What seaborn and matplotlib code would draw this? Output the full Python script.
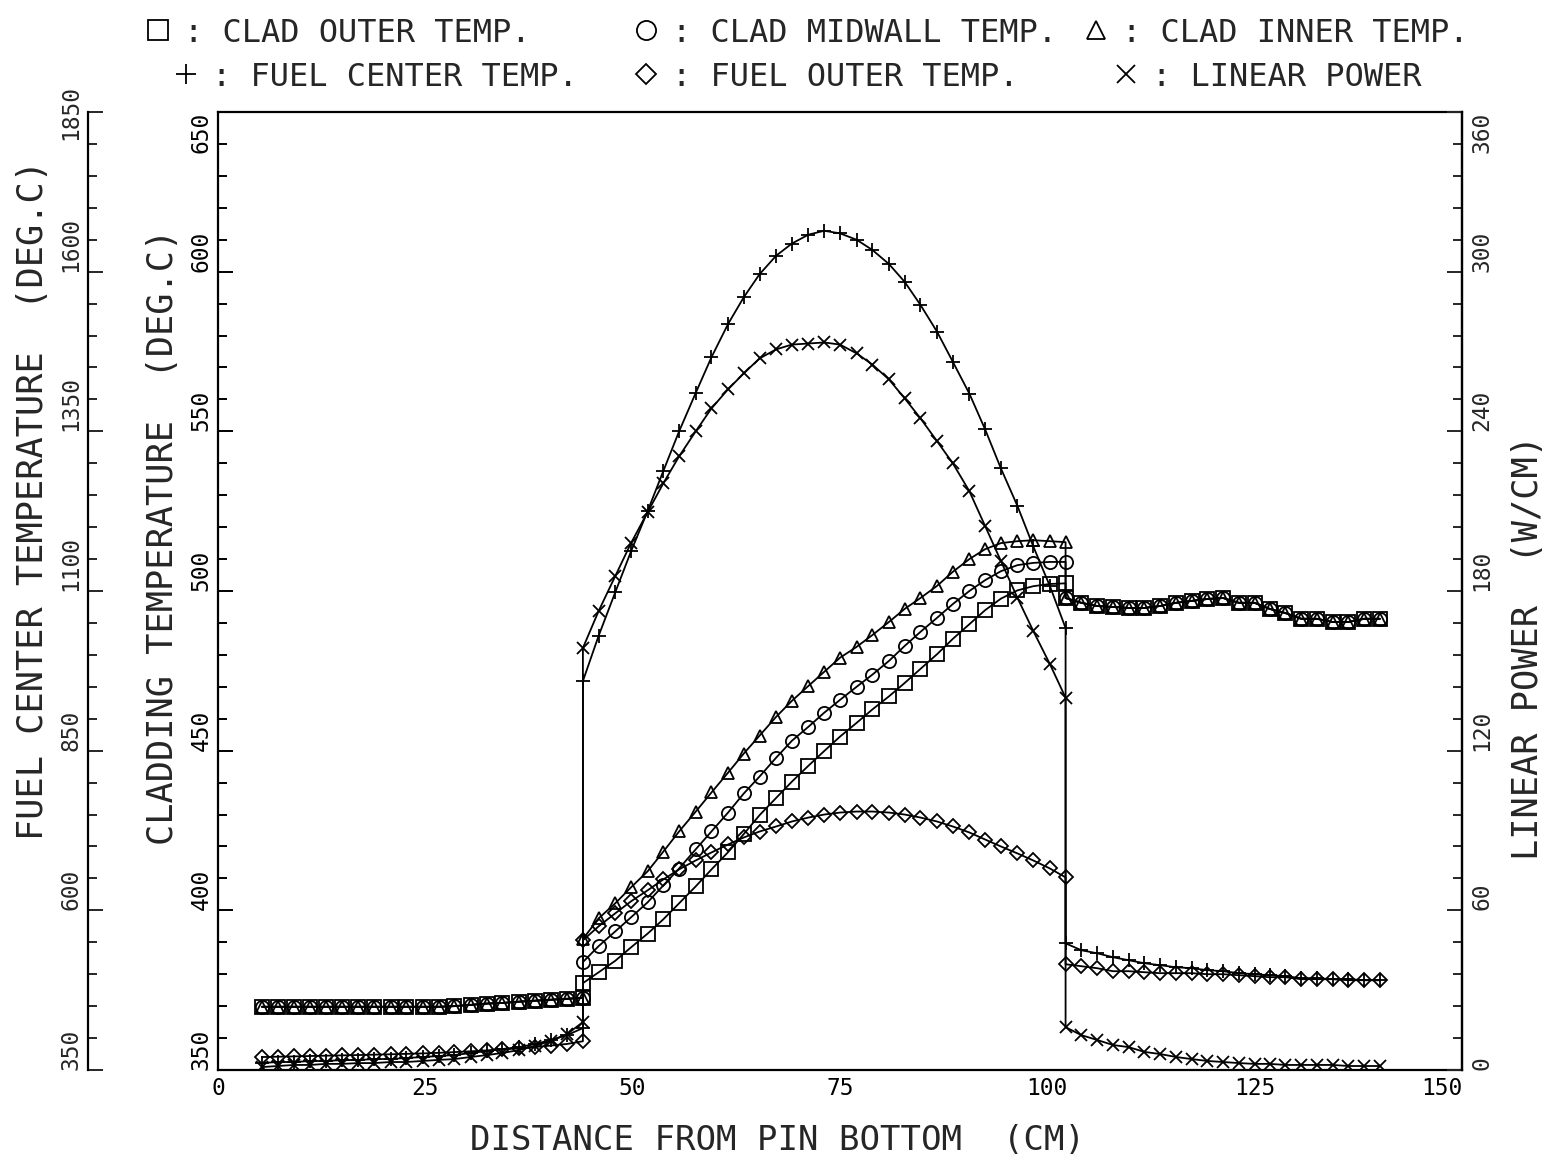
import matplotlib
matplotlib.use("Agg")
import matplotlib.pyplot as plt
from matplotlib.ticker import MultipleLocator
from matplotlib.lines import Line2D
import pandas as pd
import seaborn as sns

# ---------------- data ----------------
# axial node positions (cm from pin bottom) : lower blanket, fuel column, upper region
x_lower = [5.3, 7.2, 9.2, 11.1, 13.0, 15.0, 16.9, 18.8, 20.8, 22.7, 24.7, 26.6,
           28.5, 30.5, 32.4, 34.3, 36.3, 38.2, 40.1, 42.1, 44.0]
x_fuel = [44.0, 45.9, 47.9, 49.8, 51.8, 53.7, 55.6, 57.6, 59.5, 61.5, 63.4, 65.3,
          67.3, 69.2, 71.2, 73.1, 75.0, 77.0, 78.9, 80.9, 82.8, 84.7, 86.7, 88.6,
          90.6, 92.5, 94.4, 96.4, 98.3, 100.3, 102.2]
x_upper = [102.2, 104.1, 106.0, 107.9, 109.8, 111.7, 113.6, 115.5, 117.4, 119.3,
           121.2, 123.1, 125.0, 126.8, 128.7, 130.6, 132.5, 134.4, 136.3, 138.2, 140.1]

# cladding temperatures (deg C) - outside the fuel column all three coincide
clad_lower = [369.8, 369.8, 369.8, 369.8, 369.8, 369.8, 369.8, 369.8, 369.8, 369.8,
              369.8, 369.8, 370.0, 370.4, 370.8, 371.0, 371.4, 371.7, 372.0, 372.3, 372.6]
clad_upper = [497.8, 496.3, 495.3, 495.0, 494.7, 494.7, 495.3, 496.3, 496.9, 497.5,
              497.8, 496.3, 496.3, 494.4, 493.1, 491.3, 491.3, 490.3, 490.3, 491.3, 491.3]
clad_outer_fuel = [377.2, 380.6, 384.2, 388.4, 392.7, 397.2, 402.2, 407.5, 412.8, 418.2,
                   423.9, 429.8, 435.2, 440.3, 445.3, 449.9, 454.4, 458.7, 462.9, 467.0,
                   471.2, 475.6, 480.2, 485.0, 489.6, 494.0, 497.6, 500.2, 501.5, 502.2, 502.4]
clad_mid_fuel = [383.8, 388.8, 393.4, 397.8, 402.5, 407.8, 413.1, 419.1, 424.7, 430.6,
                 436.6, 441.9, 447.8, 453.1, 457.5, 461.9, 465.9, 470.0, 473.8, 478.1,
                 482.8, 487.2, 491.6, 495.9, 500.0, 503.4, 506.2, 508.1, 508.8, 509.1, 509.1]
clad_inner_fuel = [391.0, 397.5, 402.2, 407.2, 412.2, 418.4, 424.7, 430.9, 436.9, 443.1,
                   449.1, 454.7, 460.6, 465.6, 470.3, 474.7, 479.1, 482.5, 486.2, 490.3,
                   494.4, 497.8, 501.6, 506.0, 510.0, 513.1, 515.0, 515.6, 515.9, 515.6, 515.3]

# fuel temperatures (deg C, outer left scale)
fuel_center_lower = [360.9, 362.5, 362.5, 364.1, 364.1, 365.6, 365.6, 367.2, 367.2, 368.8,
                     370.3, 371.9, 373.4, 376.6, 379.7, 382.8, 385.9, 390.6, 396.9, 404.7, 415.6]
fuel_center_fuel = [959, 1030, 1098, 1162, 1225, 1288, 1350, 1410, 1466, 1518, 1560, 1596,
                    1625, 1644, 1658, 1664, 1660, 1650, 1634, 1612, 1584, 1548, 1506, 1459,
                    1409, 1353, 1292, 1233, 1170, 1108, 1042]
fuel_center_upper = [548.4, 537.5, 532.8, 526.6, 521.9, 517.2, 514.1, 510.9, 509.4, 506.3,
                     504.7, 501.6, 500.0, 498.4, 496.9, 493.8, 493.8, 492.2, 492.2, 490.6, 490.6]
fuel_outer_lower = [370.3, 370.8, 371.3, 371.9, 372.4, 372.9, 373.4, 374.0, 374.6, 375.3,
                    376.0, 376.9, 378.0, 379.3, 380.7, 382.2, 384.0, 386.0, 388.2, 390.8, 395.0]
fuel_outer_fuel = [553.1, 575.0, 595.3, 614.1, 631.3, 648.4, 664.1, 678.1, 690.6, 703.1,
                   714.1, 723.4, 731.3, 739.1, 745.3, 750.0, 753.1, 754.7, 754.7, 753.1,
                   750.0, 745.3, 739.1, 731.3, 721.9, 710.9, 700.0, 689.1, 678.1, 665.6, 651.6]
fuel_outer_upper = [515.6, 512.5, 509.4, 504.7, 504.7, 503.1, 501.6, 501.6, 501.6, 500.0,
                    500.0, 498.4, 496.9, 495.3, 495.3, 492.2, 492.2, 492.2, 490.6, 490.6, 490.6]

# linear power (W/cm, right scale)
power_lower = [1.1, 1.5, 1.9, 1.9, 2.3, 2.3, 2.6, 2.6, 3.0, 3.0, 3.4, 3.8, 4.1, 4.9,
               5.6, 6.4, 7.5, 9.0, 10.9, 13.5, 18.0]
power_fuel = [158.6, 172.5, 185.6, 198.0, 209.6, 220.5, 230.6, 240.0, 248.6, 255.8,
              261.8, 267.4, 270.8, 272.6, 273.0, 273.4, 272.6, 269.3, 265.1, 259.5,
              252.4, 244.9, 236.3, 228.0, 217.5, 204.4, 191.3, 177.4, 165.0, 152.6, 139.9]
power_upper = [16.1, 13.1, 11.3, 9.4, 8.6, 6.8, 6.0, 4.9, 4.1, 3.4, 3.0, 2.6, 2.3, 2.3,
               1.9, 1.9, 1.9, 1.9, 1.5, 1.5, 1.5]

x_ticks = [0, 25, 50, 75, 100, 125, 150]
clad_ticks = [350, 400, 450, 500, 550, 600, 650]
fuel_ticks = [350, 600, 850, 1100, 1350, 1600, 1850]
power_ticks = [0, 60, 120, 180, 240, 300, 360]

legend_labels = [": CLAD OUTER TEMP.", ": CLAD MIDWALL TEMP.", ": CLAD INNER TEMP.",
                 ": FUEL CENTER TEMP.", ": FUEL OUTER TEMP.", ": LINEAR POWER"]

# ---------------- figure ----------------
sns.set_theme(style="white")
plt.rcParams["font.family"] = ["DejaVu Sans Mono", "DejaVu Sans"]

W, H = 1545, 1157
fig = plt.figure(figsize=(W / 100, H / 100), dpi=100)
ax = fig.add_axes([218 / W, 87 / H, 1244 / W, 958 / H])
ax_f = ax.twinx()
ax_p = ax.twinx()

x_all = x_lower + x_fuel + x_upper


def series(lower, fuel, upper):
    return pd.DataFrame({"x": x_all, "v": list(lower) + list(fuel) + list(upper)})


LW = 1.3
specs = [
    (ax, series(clad_lower, clad_outer_fuel, clad_upper), "s", 9.5),
    (ax, series(clad_lower, clad_mid_fuel, clad_upper), "o", 9.5),
    (ax, series(clad_lower, clad_inner_fuel, clad_upper), "^", 9.0),
    (ax_f, series(fuel_center_lower, fuel_center_fuel, fuel_center_upper), "+", 10.0),
    (ax_f, series(fuel_outer_lower, fuel_outer_fuel, fuel_outer_upper), "D", 7.0),
    (ax_p, series(power_lower, power_fuel, power_upper), "x", 9.0),
]
for target, df, mk, ms in specs:
    sns.lineplot(data=df, x="x", y="v", ax=target, estimator=None, sort=False,
                 errorbar=None, legend=False, color="black", linewidth=LW,
                 marker=mk, markersize=ms, markerfacecolor="none",
                 markeredgecolor="black", markeredgewidth=LW)

# ---------------- axes styling ----------------
ax.set_xlim(0, 150)
ax.set_ylim(350, 650)
ax_f.set_ylim(350, 1850)
ax_p.set_ylim(0, 360)

ax.set_xticks(x_ticks)
ax.xaxis.set_minor_locator(MultipleLocator(5))
ax.set_yticks(clad_ticks)
ax.yaxis.set_minor_locator(MultipleLocator(10))
ax_f.set_yticks(fuel_ticks)
ax_f.yaxis.set_minor_locator(MultipleLocator(50))
ax_p.set_yticks(power_ticks)
ax_p.yaxis.set_minor_locator(MultipleLocator(12))

ax_f.spines["left"].set_position(("axes", -0.1045))
ax_f.yaxis.set_ticks_position("left")
ax_f.yaxis.set_label_position("left")
for s in ["top", "right", "bottom"]:
    ax_f.spines[s].set_visible(False)
for s in ["top", "left", "bottom"]:
    ax_p.spines[s].set_visible(False)
for a in (ax, ax_f, ax_p):
    for s in a.spines.values():
        s.set_color("black")
        s.set_linewidth(1.6)

TICK_FS = 16.5
ax.yaxis.tick_left()
ax.tick_params(axis="both", which="both", direction="in", colors="black",
               width=1.4, top=False, right=False)
for a in (ax, ax_f, ax_p):
    a.tick_params(axis="both", which="major", direction="in", length=11, width=1.4,
                  labelsize=TICK_FS)
    a.tick_params(axis="both", which="minor", direction="in", length=6.5, width=1.4)
    a.grid(False)
ax.tick_params(axis="x", which="major", pad=5)
ax.tick_params(axis="y", which="major", pad=4, labelrotation=90)
ax_f.tick_params(axis="y", which="major", pad=4, labelrotation=90)
ax_p.tick_params(axis="y", which="major", pad=6, labelrotation=90)

XLABEL_FS = 24.5
YLABEL_FS = 25.4
ax.set_xlabel("DISTANCE FROM PIN BOTTOM  (CM)", fontsize=XLABEL_FS)
ax.xaxis.set_label_coords(0.45, -0.056)
ax.set_ylabel("CLADDING TEMPERATURE  (DEG.C)", fontsize=YLABEL_FS)
ax.yaxis.set_label_coords(-0.0305, 0.235)
ax.yaxis.label.set_ha("left")
ax_f.set_xlabel("")
ax_f.set_ylabel("FUEL CENTER TEMPERATURE  (DEG.C)", fontsize=YLABEL_FS)
ax_f.yaxis.set_label_coords(-0.135, 0.240)
ax_f.yaxis.label.set_ha("left")
ax_p.set_xlabel("")
ax_p.set_ylabel("LINEAR POWER  (W/CM)", fontsize=YLABEL_FS)
ax_p.yaxis.set_label_coords(1.0394, 0.219)
ax_p.yaxis.label.set_ha("left")

# ---------------- symbol key at top (one legend entry per slot) ----------------
KEY_FS = 23
key_markers = ["s", "o", "^", "+", "D", "x"]
key_sizes = [9.5, 9.5, 9.0, 10.0, 7.0, 9.0]
key_x = [142, 630, 1080, 170, 630, 1110]      # left edge of each key, px
key_y = [33, 33, 33, 77, 77, 77]              # row centre, px from top
for lab, m, s, kx, ky in zip(legend_labels, key_markers, key_sizes, key_x, key_y):
    h = Line2D([], [], linestyle="none", marker=m, markersize=s,
               markerfacecolor="none", markeredgecolor="black", markeredgewidth=1.3)
    fig.legend([h], [lab], loc="center left", bbox_to_anchor=(kx / W, 1 - ky / H),
               bbox_transform=fig.transFigure, frameon=False, fontsize=KEY_FS,
               handlelength=1.0, handletextpad=0.3, borderpad=0, borderaxespad=0,
               markerscale=1.45)

# tick label alignment: rotated labels start at their tick
fig.canvas.draw()
for a in (ax, ax_f, ax_p):
    labs = a.get_yticklabels()
    for lab in labs:
        lab.set_va("bottom")
    labs[-1].set_va("top")
ax_f.get_yticklabels()[-1].set_va("center")
ax.get_xticklabels()[-1].set_ha("right")

fig.savefig("out.png", dpi=100, facecolor="white")
